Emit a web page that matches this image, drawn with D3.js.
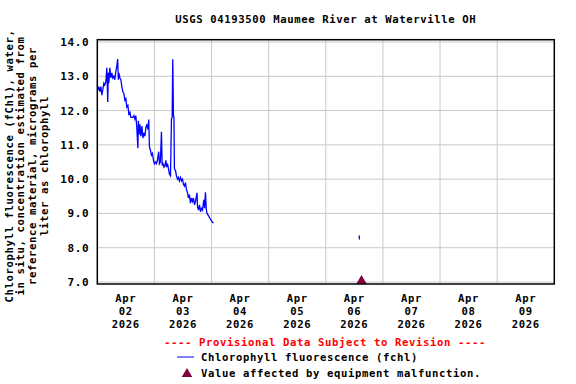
<!DOCTYPE html>
<html>
<head>
<meta charset="utf-8">
<script src="https://cdn.jsdelivr.net/npm/d3@7"></script>
<style>
  body { margin: 0; background: #fff; }
  text { font-family: "DejaVu Sans Mono", "Liberation Mono", monospace; font-weight: bold; font-size: 10.6px; letter-spacing: 0.62px; }
</style>
</head>
<body>
<svg id="chart" width="576" height="384"></svg>
<script>
// hours after 2026-04-02 00:00, chlorophyll fluorescence (ug/L)
const hours = [0.2,0.6,1.05,1.5,1.9,2.3,2.75,3.15,3.6,4.0,4.2,4.4,4.6,4.85,5.25,5.7,6.1,6.5,6.95,7.35,
  7.8,8.2,8.55,8.85,9.05,9.5,9.9,10.3,10.75,11.15,11.6,12.0,12.4,12.85,13.25,13.7,14.1,14.5,14.95,15.4,
  15.8,16.2,16.6,17.05,17.25,17.5,17.9,18.3,18.75,19.15,19.6,20.0,20.4,20.85,21.25,21.6,21.9,22.3,22.75,23.15,
  23.6,24.0,24.4,24.85,25.25,25.8,26.1,26.5,26.95,27.25,27.6,28.0,28.4,28.85,29.05,29.5,29.9,30.3,30.75,31.15,
  31.45,31.7,32.0,32.2,32.4,32.85,33.25,33.7,34.1,34.5,34.95,35.35,35.8,36.2,36.6,37.05,37.45,37.9,38.3,38.7,
  39.15,39.55,40.0,40.4,40.85,41.25,41.9,42.1,42.5,42.95,43.35,43.8,44.2,44.75,45.05,45.45,45.8,46.1,46.55,47.0,
  47.4,47.85,48.3,48.8,
  110.0,110.15];
const fchl = [12.6,12.7,12.55,12.7,12.45,12.6,12.8,12.75,12.85,13.25,12.7,12.25,13.1,12.8,13.25,12.95,13.1,12.95,13.0,12.9,
  13.15,13.3,13.5,12.9,13.1,12.95,12.9,12.7,12.55,12.5,12.3,12.35,12.1,12.15,11.9,11.95,11.8,11.8,11.8,11.85,
  11.75,11.85,11.5,10.9,11.7,11.3,11.6,11.25,11.55,11.2,11.35,11.25,11.5,11.6,11.45,11.74,10.95,10.85,10.7,10.75,
  10.55,10.45,10.5,10.45,10.55,10.8,10.45,10.5,11.38,10.4,10.45,10.35,10.4,10.55,10.35,10.45,10.3,10.15,10.1,11.75,
  11.8,13.5,11.85,11.8,10.3,10.25,10.1,10.0,10.05,9.95,10.05,9.95,10.0,9.85,9.8,9.9,9.7,9.6,9.45,9.55,
  9.3,9.45,9.35,9.45,9.25,9.35,9.6,9.2,9.1,9.25,9.05,9.15,9.1,9.4,9.15,9.62,9.1,9.0,8.95,8.9,
  8.85,8.8,8.75,8.72,
  8.36,8.24];
// malfunction flag
const flagHours = [111.0];
const flagValues = [7.0];

const dayLabels = ["02","03","04","05","06","07","08","09"];
const yTicks = [7,8,9,10,11,12,13,14];

const svg = d3.select('#chart');
const plotLeft = 97.3, plotRight = 554.3, plotTop = 39.7, plotBottom = 284;
const start = new Date(2026, 3, 2);
const hourToDate = h => new Date(start.getTime() + h * 3600e3);

const x = d3.scaleTime()
  .domain([start, new Date(2026, 3, 10)])
  .range([plotLeft, plotRight]);
const y = d3.scaleLinear()
  .domain([6.942, 14.067])
  .range([plotBottom, plotTop]);

svg.append('rect').attr('width', 576).attr('height', 384).attr('fill', '#fff');

// grid
const days = d3.timeDay.range(new Date(2026, 3, 3), new Date(2026, 3, 10));
svg.append('g')
  .selectAll('line')
  .data(days)
  .join('line')
    .attr('x1', d => x(d)).attr('x2', d => x(d))
    .attr('y1', plotTop).attr('y2', plotBottom)
    .attr('stroke', '#c8c8c8');
svg.append('g')
  .selectAll('line')
  .data(yTicks)
  .join('line')
    .attr('x1', plotLeft).attr('x2', plotRight)
    .attr('y1', d => y(d)).attr('y2', d => y(d))
    .attr('stroke', '#c8c8c8');

// data line, split where there is a gap
const pts = hours.map((h, i) => ({ t: hourToDate(h), v: fchl[i], h }));
const segs = [];
let cur = [];
pts.forEach((d, i) => {
  if (i > 0 && d.h - pts[i - 1].h > 6) { segs.push(cur); cur = []; }
  cur.push(d);
});
segs.push(cur);
svg.append('g')
  .selectAll('path')
  .data(segs)
  .join('path')
    .attr('d', d3.line().x(d => x(d.t)).y(d => y(d.v)))
    .attr('fill', 'none')
    .attr('stroke', '#0000ff')
    .attr('stroke-width', 1.3);

// flag markers
const tri = d3.symbol().type(d3.symbolTriangle).size(48);
svg.append('g')
  .selectAll('path')
  .data(flagHours)
  .join('path')
    .attr('transform', (d, i) => `translate(${x(hourToDate(d))},${y(flagValues[i]) - 1})`)
    .attr('d', tri)
    .attr('fill', '#800040');

// frame
svg.append('rect')
  .attr('x', plotLeft).attr('y', plotTop)
  .attr('width', plotRight - plotLeft).attr('height', plotBottom - plotTop)
  .attr('fill', 'none').attr('stroke', '#000').attr('stroke-width', 1.5);

// y axis
svg.append('g')
  .attr('transform', `translate(${plotLeft},0)`)
  .call(d3.axisLeft(y).tickValues(yTicks).tickSize(0).tickPadding(8).tickFormat(d3.format('.1f')))
  .call(g => g.select('.domain').remove())
  .call(g => g.selectAll('text').attr('fill', '#000').style('font-size', '11px')
    .style('font-family', '"DejaVu Sans Mono", monospace').style('font-weight', 'bold'));

// x axis labels at noon
const noons = dayLabels.map((d, i) => new Date(2026, 3, 2 + i, 12));
const xl = svg.append('g')
  .selectAll('text')
  .data(noons)
  .join('text')
    .attr('text-anchor', 'middle')
    .attr('x', d => x(d));
xl.append('tspan').attr('x', d => x(d)).attr('y', 302).text('Apr');
xl.append('tspan').attr('x', d => x(d)).attr('y', 315).text((d, i) => dayLabels[i]);
xl.append('tspan').attr('x', d => x(d)).attr('y', 328).text('2026');

// title
svg.append('text')
  .attr('x', (plotLeft + plotRight) / 2).attr('y', 23)
  .attr('text-anchor', 'middle')
  .text('USGS 04193500 Maumee River at Waterville OH');

// y label
const yLabel = [
  'Chlorophyll fluorescence (fChl), water,',
  'in situ, concentration estimated from',
  'reference material, micrograms per',
  'liter as chlorophyll'
];
svg.append('g')
  .selectAll('text')
  .data(yLabel)
  .join('text')
    .attr('transform', (d, i) => `translate(${12.5 + i * 11.7},166) rotate(-90)`)
    .attr('text-anchor', 'middle')
    .text(d => d);

// legend
svg.append('text')
  .attr('x', 325).attr('y', 346)
  .attr('text-anchor', 'middle')
  .attr('fill', '#ff0000')
  .text('---- Provisional Data Subject to Revision ----');
svg.append('line')
  .attr('x1', 177).attr('x2', 194).attr('y1', 357).attr('y2', 357)
  .attr('stroke', '#0000ff');
svg.append('text').attr('x', 201).attr('y', 361).text('Chlorophyll fluorescence (fchl)');
svg.append('path')
  .attr('transform', 'translate(187,374)')
  .attr('d', tri)
  .attr('fill', '#800040');
svg.append('text').attr('x', 201).attr('y', 377).text('Value affected by equipment malfunction.');
</script>
</body>
</html>
